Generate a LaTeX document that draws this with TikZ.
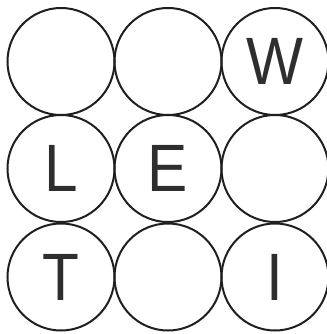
\documentclass[tikz,border=0pt]{standalone}
\usepackage{fontspec}
\setmainfont{Liberation Sans}
\begin{document}
\begin{tikzpicture}[x=1pt,y=-1pt,
  ring/.style={circle,draw=black!88,line width=2pt,minimum size=107pt,inner sep=0pt},
  letter/.style={text=black!82,font=\fontsize{67}{67}\selectfont,xscale=0.9,inner sep=0pt}]
\useasboundingbox (0,0) rectangle (326,334);
\fill[white] (0,0) rectangle (326,334);
\node[ring] (c11) at (61,61.5) {};
\node[ring] (c12) at (168,61.5) {};
\node[ring] (c13) at (275,61.5) {};
\node[ring] (c21) at (61,168.5) {};
\node[ring] (c22) at (168,168.5) {};
\node[ring] (c23) at (275,168.5) {};
\node[ring] (c31) at (61,277) {};
\node[ring] (c32) at (168,277) {};
\node[ring] (c33) at (275,277) {};
\node[letter] (w) at (c13.center) {W};
\node[letter] (l) at (c21.center) {L};
\node[letter] (e) at (c22.center) {E};
\node[letter] (t) at (c31.center) {T};
\node[letter] (i) at (c33.center) {I};
\end{tikzpicture}
\end{document}
